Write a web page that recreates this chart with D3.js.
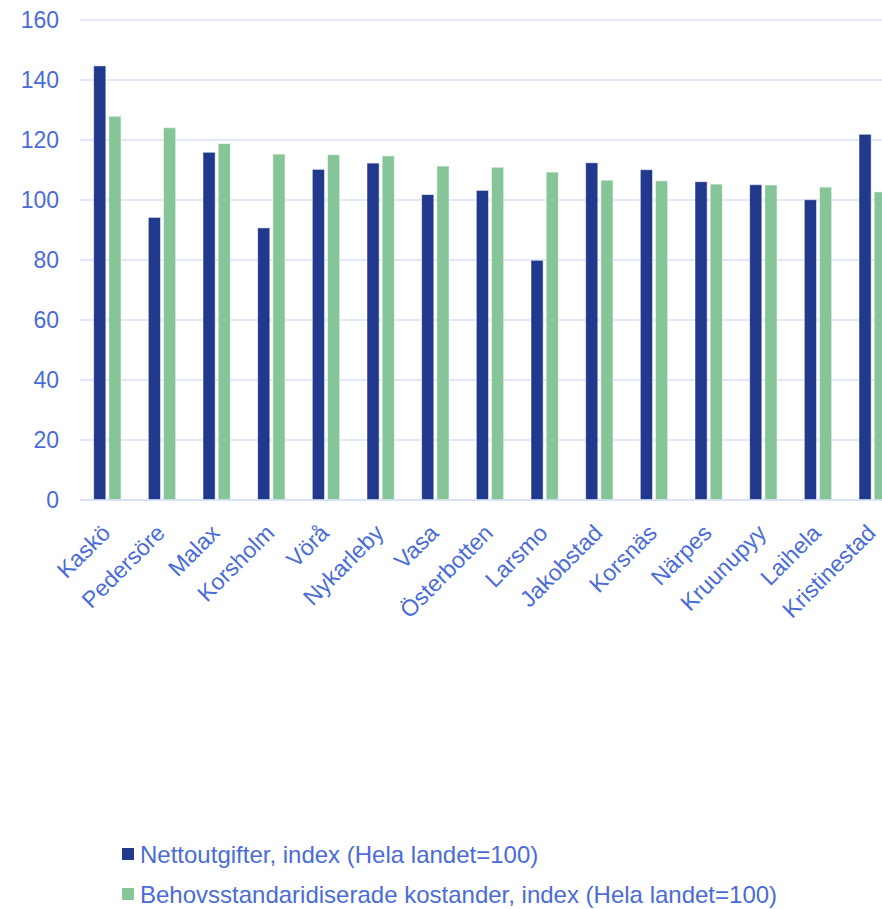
<!DOCTYPE html>
<html>
<head>
<meta charset="utf-8">
<script src="https://cdn.jsdelivr.net/npm/d3@7"></script>
<style>
  html, body { margin: 0; padding: 0; background: #fff; }
  svg { display: block; font-family: "Liberation Sans", Arial, sans-serif; }
</style>
</head>
<body>
<svg id="chart" width="882" height="909"></svg>
<script>
const categories = ["Kaskö","Pedersöre","Malax","Korsholm","Vörå","Nykarleby","Vasa","Österbotten","Larsmo","Jakobstad","Korsnäs","Närpes","Kruunupyy","Laihela","Kristinestad"];
const nettoutgifter = [144.7, 94.2, 115.9, 90.7, 110.2, 112.3, 101.8, 103.2, 79.9, 112.4, 110.1, 106.1, 105.1, 100.1, 121.9];
const behovsstandard = [127.9, 124.1, 118.8, 115.3, 115.1, 114.7, 111.3, 110.9, 109.3, 106.6, 106.4, 105.3, 105.0, 104.3, 102.7];
const seriesNames = ["Nettoutgifter, index (Hela landet=100)", "Behovsstandaridiserade kostander, index (Hela landet=100)"];
const seriesColors = ["#20398C", "#86C598"];
const yTicks = [0, 20, 40, 60, 80, 100, 120, 140, 160];

const textColor = "#4A6CD8";
const gridColor = "#D9E1F7";

const svg = d3.select("#chart");

const x0 = d3.scaleBand().domain(categories).range([80, 900]).padding(0);
const step = x0.step();
const x1 = d3.scaleBand().domain([0, 1]).range([step * 0.25, step * 0.75]).paddingInner(0.2);
const y = d3.scaleLinear().domain([0, 160]).range([500, 20]);

// gridlines
svg.append("g").selectAll("line").data(yTicks).join("line")
  .attr("x1", 80).attr("x2", 882)
  .attr("y1", d => y(d)).attr("y2", d => y(d))
  .attr("stroke", gridColor).attr("stroke-width", 1.5);

// y labels
svg.append("g").selectAll("text").data(yTicks).join("text")
  .attr("x", 59).attr("y", d => y(d))
  .attr("dy", "0.36em")
  .attr("text-anchor", "end")
  .attr("font-size", 23)
  .attr("fill", textColor)
  .text(d => d);

// bars
const data = categories.map((c, i) => ({ c, vals: [nettoutgifter[i], behovsstandard[i]] }));
const groups = svg.append("g").selectAll("g").data(data).join("g")
  .attr("transform", d => `translate(${x0(d.c)},0)`);
groups.selectAll("rect").data(d => d.vals.map((v, k) => ({ v, k }))).join("rect")
  .attr("x", d => x1(d.k))
  .attr("width", x1.bandwidth())
  .attr("y", d => y(d.v))
  .attr("height", d => y(0) - y(d.v))
  .attr("fill", d => seriesColors[d.k])
  .attr("stroke", "#ffffff").attr("stroke-opacity", 0.5).attr("stroke-width", 1);

// baseline
svg.append("line").attr("x1", 80).attr("x2", 882).attr("y1", y(0)).attr("y2", y(0))
  .attr("stroke", gridColor).attr("stroke-width", 1.5);

// x labels
svg.append("g").selectAll("text").data(categories).join("text")
  .attr("transform", d => `translate(${x0(d) + step / 2 - 7},${523}) rotate(-45)`)
  .attr("text-anchor", "end")
  .attr("dy", "0.7em")
  .attr("font-size", 23)
  .attr("fill", textColor)
  .text(d => d);

// legend
const legend = svg.append("g").selectAll("g").data(seriesNames).join("g")
  .attr("transform", (d, i) => `translate(122,${854 + i * 40})`);
legend.append("rect").attr("x", 0).attr("y", -6).attr("width", 12).attr("height", 12)
  .attr("fill", (d, i) => seriesColors[i]);
legend.append("text").attr("x", 18).attr("y", 0).attr("dy", "0.36em")
  .attr("font-size", 24).attr("fill", textColor)
  .text(d => d);
</script>
</body>
</html>
